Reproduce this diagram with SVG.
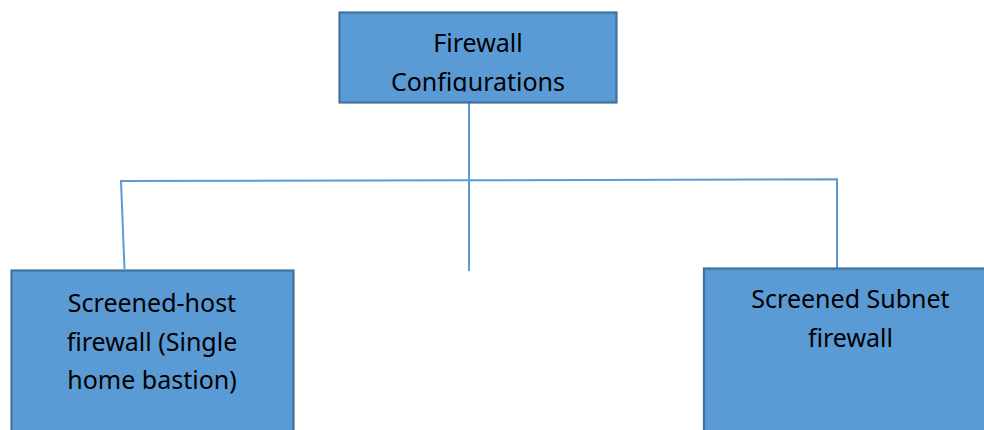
<svg xmlns="http://www.w3.org/2000/svg" width="984" height="430" viewBox="0 0 984 430">
  <style>
    .box { fill: #5B9BD5; stroke: #41719C; stroke-width: 2.2; }
    .lbl { font-family: "Noto Sans", "Open Sans", sans-serif; font-size: 25px; fill: #000; text-anchor: middle; }
    .wire { fill: none; stroke: #5B9BD5; stroke-width: 2; }
  </style>
  <defs>
    <clipPath id="topClip">
      <rect x="340" y="13" width="276" height="78.5"/>
    </clipPath>
  </defs>
  <rect width="984" height="430" fill="#fff"/>

  <g id="connectors">
    <line class="wire" x1="469" y1="103" x2="469" y2="271"/>
    <polyline class="wire" points="124.5,269 121,181 469,180.3 837,179.3 837,268"/>
  </g>

  <g id="firewall-configurations">
    <rect class="box" x="339.5" y="12.5" width="277" height="90"/>
    <g clip-path="url(#topClip)">
      <text class="lbl" x="478" y="52">Firewall</text>
      <text class="lbl" x="478" y="90.5">Configurations</text>
    </g>
  </g>

  <g id="screened-host">
    <rect class="box" x="11.5" y="270.5" width="282" height="170"/>
    <text class="lbl" x="152" y="312">Screened-host</text>
    <text class="lbl" x="152" y="350.5">firewall (Single</text>
    <text class="lbl" x="152" y="389">home bastion)</text>
  </g>

  <g id="screened-subnet">
    <rect class="box" x="704" y="268.5" width="294" height="172"/>
    <text class="lbl" x="850.5" y="308">Screened Subnet</text>
    <text class="lbl" x="850.5" y="346.5">firewall</text>
  </g>
</svg>
